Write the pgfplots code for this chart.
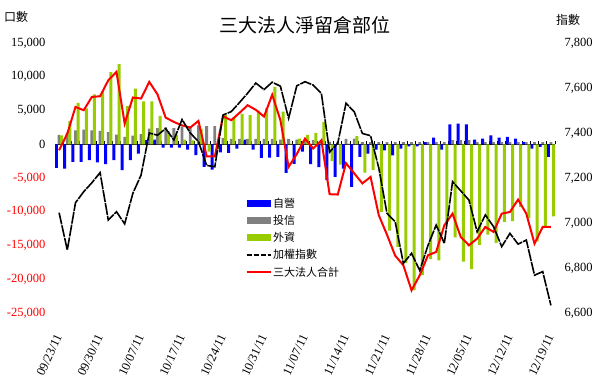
\documentclass[border=0pt]{standalone}
\usepackage{fontspec}
\setmainfont{Liberation Serif}
\newfontfamily\cjk{Noto Sans CJK TC}
\usepackage{pgfplots}
\usepackage{pgfplotstable}
\pgfplotsset{compat=1.18}
\definecolor{cblue}{HTML}{0000FF}
\definecolor{cgray}{HTML}{808080}
\definecolor{cgreen}{HTML}{99CC00}
\definecolor{cred}{HTML}{FF0000}

\pgfplotstableread{
i blue gray green idx total
0 -3500 1400 1300 7046 -890
1 -3600 1730 3410 6880 1580
2 -2600 2070 6130 7090 5530
3 -2600 2170 5300 7139 5040
4 -2370 2070 7400 7179 7010
5 -2700 2000 7800 7224 7110
6 -2960 1780 10700 7013 9480
7 -2370 1430 11860 7050 10720
8 -3850 1090 5630 6996 3060
9 -2370 1280 8250 7132 6920
10 -1380 1500 6370 7213 6770
11 600 2300 6370 7400 9240
12 700 2400 4200 7390 7400
13 -500 2500 1900 7420 3950
14 -500 2400 1400 7369 3310
15 -500 2600 700 7460 2800
16 -800 2700 570 7400 2470
17 -1600 2800 2260 7362 3460
18 -3360 2700 -1100 7256 -1780
19 -3750 2700 -730 7250 -1780
20 -1200 900 4300 7480 4150
21 -1280 800 4000 7495 3560
22 -640 800 4500 7535 4640
23 690 800 4300 7577 5780
24 -790 800 5000 7622 5100
25 -2000 800 5300 7593 4100
26 -1980 800 8500 7626 7330
27 -1880 700 4850 7608 3560
28 -4250 800 100 7465 -3360
29 -2900 700 840 7610 -1450
30 -1100 600 1400 7628 840
31 -2960 600 1700 7613 -640
32 -3400 600 3310 7576 590
33 -5330 400 -2500 7315 -7400
34 -4840 400 -3000 7355 -7450
35 -3600 800 100 7532 -2800
36 -6320 840 1190 7495 -4300
37 -1880 300 -4200 7398 -5800
38 -1380 300 -3800 7388 -4840
39 -800 300 -10030 7245 -10500
40 -890 300 -12800 7043 -13400
41 -1630 300 -15200 7006 -16500
42 -640 300 -17600 6821 -17930
43 -300 300 -21600 6865 -21640
44 -300 300 -19400 6789 -19410
45 300 300 -17000 6900 -16450
46 990 300 -17200 6991 -15960
47 -790 300 -11500 6910 -12000
48 2960 600 -13800 7184 -10280
49 3060 600 -17400 7143 -13730
50 2960 600 -18500 7102 -14970
51 690 300 -14900 6961 -13980
52 840 300 -13400 7036 -12250
53 1330 300 -14600 6984 -12990
54 990 300 -11500 6895 -10280
55 1090 300 -11400 6954 -10030
56 840 300 -9300 6906 -8200
57 350 300 -10900 6924 -10280
58 -640 300 -14400 6768 -14720
59 -400 300 -12200 6784 -12250
60 -1880 300 -10700 6634 -12250
}\data

\begin{document}
\begin{tikzpicture}[font=\fontsize{12.5}{14}\selectfont]
\useasboundingbox (0,0) rectangle (600pt,386pt);
\begin{axis}[
  at={(55pt,73pt)}, anchor=south west,
  width=500pt, height=270pt, scale only axis,
  xmin=-0.5, xmax=60.5, ymin=-25000, ymax=15000,
  scaled y ticks=false,
  axis x line*=middle, axis y line*=left,
  y axis line style={draw=none},
  x axis line style={black, line width=1pt},
  tick align=inside,
  xtick={-0.5,0.5,...,60.5}, xticklabels={},
  x tick style={black, line width=0.8pt},
  major tick length=3pt,
  ytick={-25000,-20000,...,15000},
  yticklabels={{\textcolor{cred}{-25,000}},{\textcolor{cred}{-20,000}},{\textcolor{cred}{-15,000}},{\textcolor{cred}{-10,000}},{\textcolor{cred}{-5,000}},{0},{5,000},{10,000},{15,000}},
  y tick style={draw=none},
  yticklabel style={anchor=east, xshift=-6pt},
  legend cell align=left,
  legend style={draw=none, fill=none, at={(0.375,0.44)}, anchor=north west,
    font=\cjk\fontsize{11}{13}\selectfont, row sep=3.5pt,
    nodes={inner sep=1.5pt}},
]
\addplot[ybar, bar width=3pt, bar shift=-2.6pt, fill=cblue, draw=none,
  legend image code/.code={\fill[cblue] (0pt,-3.5pt) rectangle (24pt,3.5pt);}]
  table[x=i,y=blue]{\data};
\addlegendentry{自營}
\addplot[ybar, bar width=2.8pt, bar shift=0pt, fill=cgray, draw=none,
  legend image code/.code={\fill[cgray] (0pt,-3.5pt) rectangle (24pt,3.5pt);}]
  table[x=i,y=gray]{\data};
\addlegendentry{投信}
\addplot[ybar, bar width=3pt, bar shift=2.6pt, fill=cgreen, draw=none,
  legend image code/.code={\fill[cgreen] (0pt,-3.5pt) rectangle (24pt,3.5pt);}]
  table[x=i,y=green]{\data};
\addlegendentry{外資}
\addlegendimage{black, line width=1.6pt,
  legend image code/.code={\draw[black, line width=1.6pt, dash pattern=on 5pt off 2pt] (0pt,0pt) -- (24pt,0pt);}}
\addlegendentry{加權指數}
\addplot[cred, line width=2pt,
  legend image code/.code={\draw[cred, line width=2pt] (0pt,0pt) -- (24pt,0pt);}]
  table[x=i,y=total]{\data};
\addlegendentry{三大法人合計}
\end{axis}
\begin{axis}[
  at={(55pt,73pt)}, anchor=south west,
  width=500pt, height=270pt, scale only axis,
  xmin=-0.5, xmax=60.5, ymin=6600, ymax=7800,
  scaled y ticks=false,
  axis x line*=bottom, axis y line*=right,
  axis line style={draw=none}, tick style={draw=none},
  xtick={0,5,...,60},
  xticklabels={09/23/11,09/30/11,10/07/11,10/17/11,10/24/11,10/31/11,11/07/11,11/14/11,11/21/11,11/28/11,12/05/11,12/12/11,12/19/11},
  xticklabel style={xshift=1pt, yshift=-19pt, rotate=65, anchor=east},
  ytick={6600,6800,...,7800},
  yticklabels={{6,600},{6,800},{7,000},{7,200},{7,400},{7,600},{7,800}},
  yticklabel style={anchor=west, xshift=6pt},
]
\addplot[black, line width=1.6pt, dash pattern=on 12pt off 1pt] table[x=i,y=idx]{\data};
\end{axis}
\node[font=\cjk\fontsize{19}{21}\selectfont] at (305pt,361pt) {三大法人淨留倉部位};
\node[font=\cjk\fontsize{12}{14}\selectfont, anchor=west, inner sep=0pt] at (4pt,369pt) {口數};
\node[font=\cjk\fontsize{12}{14}\selectfont, anchor=west, inner sep=0pt] at (556pt,366pt) {指數};
\end{tikzpicture}
\end{document}
